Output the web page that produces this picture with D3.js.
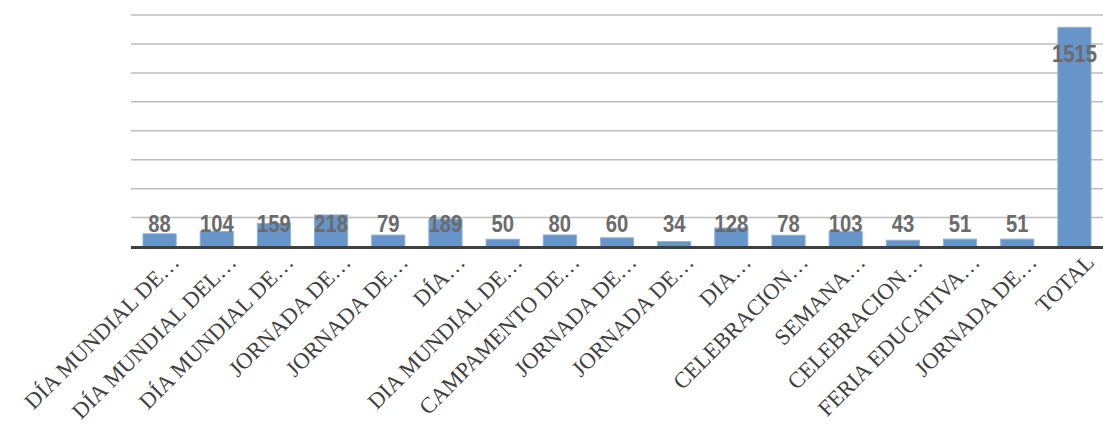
<!DOCTYPE html>
<html>
<head>
<meta charset="utf-8">
<script src="https://cdn.jsdelivr.net/npm/d3@7"></script>
<style>
  body { margin: 0; background: #fff; }
  svg { display: block; }
</style>
</head>
<body>
<svg id="chart"></svg>
<script>
// categories (as shown on the axis, already truncated) and their values
const categories = [
  "DÍA MUNDIAL DE…", "DÍA MUNDIAL DEL…", "DÍA MUNDIAL DE…", "JORNADA DE…",
  "JORNADA DE…", "DÍA…", "DIA MUNDIAL DE…", "CAMPAMENTO DE…", "JORNADA DE…",
  "JORNADA DE…", "DIA…", "CELEBRACION…", "SEMANA…", "CELEBRACION…",
  "FERIA EDUCATIVA…", "JORNADA DE…", "TOTAL"
];
const values = [88, 104, 159, 218, 79, 189, 50, 80, 60, 34, 128, 78, 103, 43, 51, 51, 1515];
const gridTicks = [200, 400, 600, 800, 1000, 1200, 1400, 1600];

const config = {
  width: 1103,
  height: 426,
  margin: { top: 15, right: 0, bottom: 180, left: 131 }
};

const data = categories.map((c, i) => ({ key: i, label: c, value: values[i] }));

const svg = d3.select('#chart')
  .attr('width', config.width)
  .attr('height', config.height);

const x = d3.scaleBand()
  .domain(data.map(d => d.key))
  .range([config.margin.left, config.width - config.margin.right])
  .paddingInner(0.42)
  .paddingOuter(0.21);

const y = d3.scaleLinear()
  .domain([0, 1600])
  .range([config.height - config.margin.bottom + 0.5, config.margin.top]);

// gridlines
svg.append('g')
  .attr('class', 'grid')
  .selectAll('line')
  .data(gridTicks)
  .join('line')
  .attr('x1', config.margin.left)
  .attr('x2', config.width - config.margin.right)
  .attr('y1', d => y(d))
  .attr('y2', d => y(d))
  .attr('stroke', '#bdbdbd')
  .attr('stroke-width', 1.5);

// bars
svg.append('g')
  .attr('class', 'bars')
  .selectAll('rect')
  .data(data)
  .join('rect')
  .attr('x', d => x(d.key))
  .attr('y', d => y(d.value))
  .attr('width', x.bandwidth())
  .attr('height', d => y(0) - y(d.value))
  .attr('fill', '#6794c9')
  .attr('stroke', '#8fb1da')
  .attr('stroke-width', 1);

// baseline axis
svg.append('line')
  .attr('x1', config.margin.left)
  .attr('x2', config.width - config.margin.right)
  .attr('y1', y(0) + 1)
  .attr('y2', y(0) + 1)
  .attr('stroke', '#404040')
  .attr('stroke-width', 3);

// value labels (inside end for the tall bar, otherwise just above the axis)
svg.append('g')
  .attr('class', 'values')
  .selectAll('text')
  .data(data)
  .join('text')
  .attr('transform', d => `translate(${x(d.key) + x.bandwidth() / 2}, ${Math.min(y(d.value) + 35, y(0) - 15)}) scale(0.88, 1)`)
  .attr('text-anchor', 'middle')
  .style('font-family', '"Liberation Sans", Arial, sans-serif')
  .style('font-weight', 'bold')
  .style('font-size', '23px')
  .style('fill', '#6b6b6b')
  .text(d => d.value);

// rotated category labels
svg.append('g')
  .attr('class', 'x-labels')
  .selectAll('text')
  .data(data)
  .join('text')
  .attr('transform', d => `translate(${x(d.key) + x.bandwidth() / 2 + 21}, ${y(0) + 17}) rotate(-45)`)
  .attr('text-anchor', 'end')
  .style('font-family', '"Liberation Serif", "Times New Roman", serif')
  .style('font-size', '22.5px')
  .style('fill', '#404040')
  .text(d => d.label);
</script>
</body>
</html>
